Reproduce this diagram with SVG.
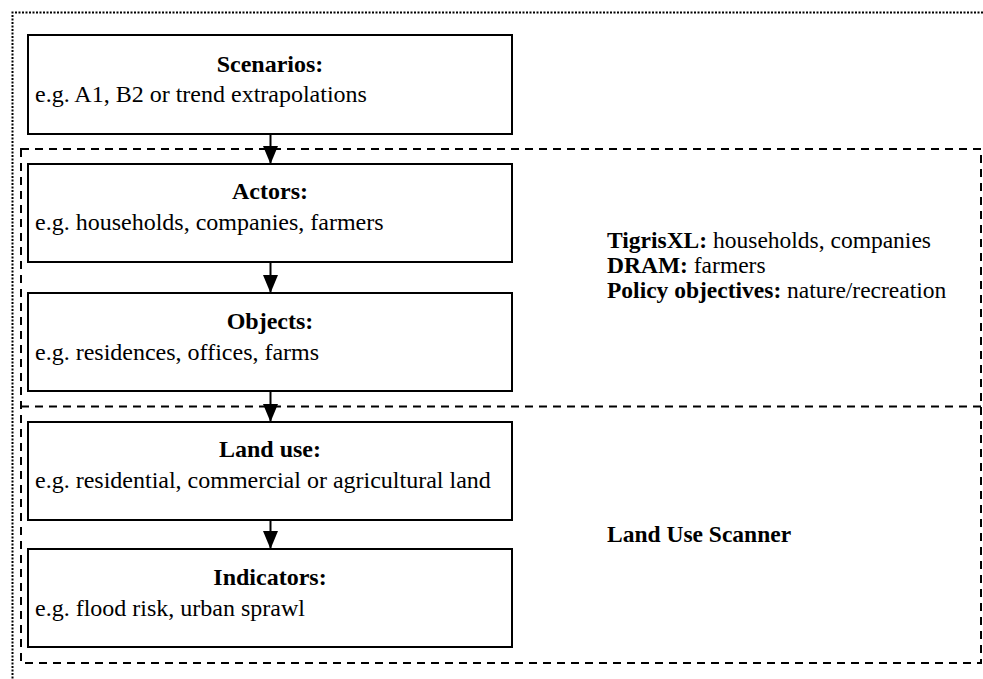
<svg xmlns="http://www.w3.org/2000/svg" width="983" height="679" viewBox="0 0 983 679">
<style>
.box{fill:#fff;stroke:#000;stroke-width:2}
.dash{fill:none;stroke:#000;stroke-width:2;stroke-dasharray:8 6}
.dot{fill:none;stroke:#000;stroke-width:2;stroke-dasharray:2 1.5}
.t{font-family:"Liberation Serif","Times New Roman",serif;font-size:24px;fill:#000}
.r{font-size:23.5px}
.b{font-weight:bold}
.c{text-anchor:middle}
.ln{stroke:#000;stroke-width:2}
</style>
<defs>
<marker id="ah" markerWidth="18" markerHeight="15" refX="18" refY="7.5" orient="auto" markerUnits="userSpaceOnUse" viewBox="0 0 18 15">
<path d="M0,0 L18,7.5 L0,15 Z" fill="#000"/>
</marker>
</defs>
<rect width="983" height="679" fill="#fff"/>
<g id="outer">
<path class="dot" d="M983,12.5 H12.5 V679"/>
</g>
<g id="model-groups">
<rect class="dash" x="21" y="149" width="960" height="514"/>
<line class="dash" x1="21" y1="406.5" x2="981" y2="406.5"/>
</g>
<g id="scenarios">
<rect class="box" x="28" y="35" width="484" height="99"/>
<text class="t b c" x="270" y="72">Scenarios:</text>
<text class="t" x="35" y="102">e.g. A1, B2 or trend extrapolations</text>
</g>
<g id="actors">
<rect class="box" x="28" y="164" width="484" height="98"/>
<text class="t b c" x="270" y="199">Actors:</text>
<text class="t" x="35" y="230">e.g. households, companies, farmers</text>
</g>
<g id="objects">
<rect class="box" x="28" y="293" width="484" height="98"/>
<text class="t b c" x="270" y="329">Objects:</text>
<text class="t" x="35" y="360">e.g. residences, offices, farms</text>
</g>
<g id="landuse">
<rect class="box" x="28" y="422" width="484" height="98"/>
<text class="t b c" x="270" y="457">Land use:</text>
<text class="t" x="35" y="488">e.g. residential, commercial or agricultural land</text>
</g>
<g id="indicators">
<rect class="box" x="28" y="549" width="484" height="98"/>
<text class="t b c" x="270" y="585">Indicators:</text>
<text class="t" x="35" y="616">e.g. flood risk, urban sprawl</text>
</g>
<g id="models-label">
<text class="t r" x="607" y="248"><tspan class="b">TigrisXL:</tspan> households, companies</text>
<text class="t r" x="607" y="273"><tspan class="b">DRAM:</tspan> farmers</text>
<text class="t r" x="607" y="298"><tspan class="b">Policy objectives:</tspan> nature/recreation</text>
</g>
<g id="lus-label">
<text class="t r b" x="607" y="542">Land Use Scanner</text>
</g>
<g id="connectors">
<line class="ln" x1="270.5" y1="134" x2="270.5" y2="164" marker-end="url(#ah)"/>
<line class="ln" x1="270.5" y1="262" x2="270.5" y2="293" marker-end="url(#ah)"/>
<line class="ln" x1="270.5" y1="391" x2="270.5" y2="422" marker-end="url(#ah)"/>
<line class="ln" x1="270.5" y1="520" x2="270.5" y2="549" marker-end="url(#ah)"/>
</g>
</svg>
